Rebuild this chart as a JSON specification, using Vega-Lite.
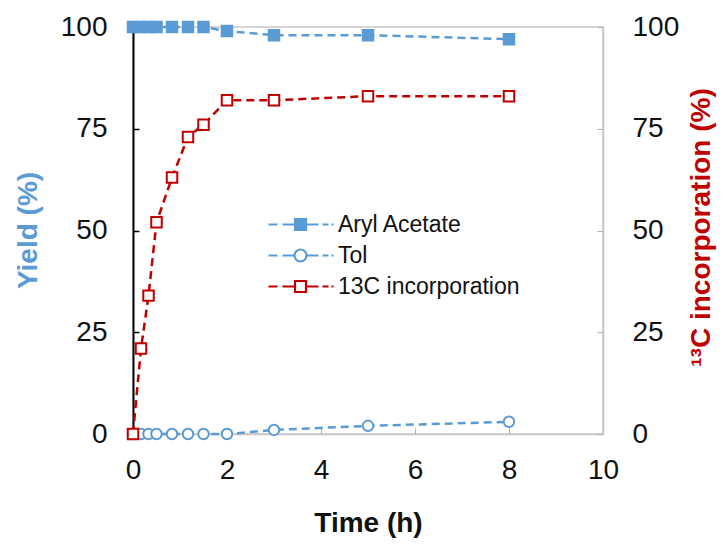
{
  "$schema": "https://vega.github.io/schema/vega-lite/v6.json",
  "width": 470,
  "height": 407,
  "autosize": "none",
  "padding": {"left": 133, "top": 27, "right": 120, "bottom": 112},
  "background": "white",
  "config": {
    "font": "Liberation Sans",
    "view": {"stroke": "#c8c8c8", "strokeWidth": 1.5},
    "axis": {"grid": false, "labelColor": "#111111", "titleColor": "#111111", "labelFontSize": 28, "titleFontSize": 28, "titleFontWeight": "bold", "labelFlush": false, "labelOverlap": false}
  },
  "data": {
    "values": [
      {"t": 0, "series": "Aryl Acetate", "v": 100},
      {"t": 0.17, "series": "Aryl Acetate", "v": 100},
      {"t": 0.33, "series": "Aryl Acetate", "v": 100},
      {"t": 0.5, "series": "Aryl Acetate", "v": 100},
      {"t": 0.83, "series": "Aryl Acetate", "v": 100},
      {"t": 1.17, "series": "Aryl Acetate", "v": 100},
      {"t": 1.5, "series": "Aryl Acetate", "v": 100},
      {"t": 2, "series": "Aryl Acetate", "v": 99},
      {"t": 3, "series": "Aryl Acetate", "v": 98},
      {"t": 5, "series": "Aryl Acetate", "v": 98},
      {"t": 8, "series": "Aryl Acetate", "v": 97},
      {"t": 0, "series": "Tol", "v": 0},
      {"t": 0.17, "series": "Tol", "v": 0},
      {"t": 0.33, "series": "Tol", "v": 0},
      {"t": 0.5, "series": "Tol", "v": 0},
      {"t": 0.83, "series": "Tol", "v": 0},
      {"t": 1.17, "series": "Tol", "v": 0},
      {"t": 1.5, "series": "Tol", "v": 0},
      {"t": 2, "series": "Tol", "v": 0},
      {"t": 3, "series": "Tol", "v": 1},
      {"t": 5, "series": "Tol", "v": 2},
      {"t": 8, "series": "Tol", "v": 3},
      {"t": 0, "series": "13C incorporation", "v": 0},
      {"t": 0.17, "series": "13C incorporation", "v": 21},
      {"t": 0.33, "series": "13C incorporation", "v": 34},
      {"t": 0.5, "series": "13C incorporation", "v": 52},
      {"t": 0.83, "series": "13C incorporation", "v": 63},
      {"t": 1.17, "series": "13C incorporation", "v": 73},
      {"t": 1.5, "series": "13C incorporation", "v": 76},
      {"t": 2, "series": "13C incorporation", "v": 82},
      {"t": 3, "series": "13C incorporation", "v": 82},
      {"t": 5, "series": "13C incorporation", "v": 83},
      {"t": 8, "series": "13C incorporation", "v": 83}
    ]
  },
  "encoding": {
    "x": {
      "field": "t", "type": "quantitative",
      "scale": {"domain": [0, 10], "nice": false},
      "axis": {"values": [0, 2, 4, 6, 8, 10], "title": "Time (h)", "domainColor": "#c8c8c8", "domainWidth": 1.5, "tickColor": "#b0b0b0", "tickSize": -6, "labelPadding": 28, "titleY": 89, "titleBaseline": "middle"}
    }
  },
  "layer": [
    {
      "transform": [{"filter": "datum.series !== '13C incorporation'"}],
      "encoding": {
        "y": {
          "field": "v", "type": "quantitative",
          "scale": {"domain": [0, 100], "nice": false},
          "axis": {"values": [0, 25, 50, 75, 100], "title": "Yield (%)", "titleColor": "#5b9bd5", "domainColor": "#000000", "domainWidth": 2, "tickColor": "#000000", "tickSize": -6, "tickWidth": 1.5, "labelPadding": 32, "titleX": -105, "titleY": 203, "titleAngle": -90, "titleBaseline": "middle", "titleAlign": "center"}
        }
      },
      "layer": [
        {
          "mark": {"type": "line", "strokeDash": [8, 5], "strokeWidth": 2.5},
          "encoding": {
            "stroke": {
              "field": "series", "type": "nominal",
              "scale": {"domain": ["Aryl Acetate", "Tol", "13C incorporation"], "range": ["#5b9bd5", "#5b9bd5", "#c00000"]},
              "legend": {
                "title": null, "orient": "none", "legendX": 156, "legendY": 186,
                "labelFontSize": 23, "labelColor": "#111111", "labelOffset": 26, "rowPadding": 7, "labelLimit": 400,
                "symbolSize": 100, "symbolStrokeWidth": 2.2,
                "encode": {
                  "symbols": {
                    "update": {
                      "shape": {"signal": "datum.value === 'Tol' ? 'M-6.4,0L-4.6,0M-3.6,0L-1.2,0M1.2,0A1.2,1.2,0,1,1,-1.2,0A1.2,1.2,0,1,1,1.2,0ZM1.2,0L3.6,0M4.4,0L5.6,0M6.2,0L6.6,0' : 'M-6.4,0L-4.6,0M-3.6,0L-1.1,0M-1.1,-1.1L1.1,-1.1L1.1,1.1L-1.1,1.1ZM1.1,0L3.6,0M4.4,0L5.6,0M6.2,0L6.6,0'"},
                      "fill": {"signal": "datum.value === 'Aryl Acetate' ? '#5b9bd5' : '#ffffff'"},
                      "strokeDash": {"value": []},
                      "opacity": {"value": 1}
                    }
                  }
                }
              }
            }
          }
        },
        {
          "transform": [{"filter": "datum.series === 'Aryl Acetate'"}],
          "mark": {"type": "point", "shape": "square", "size": 110, "strokeWidth": 2, "opacity": 1, "filled": true, "fill": "#5b9bd5", "stroke": "#5b9bd5"}
        },
        {
          "transform": [{"filter": "datum.series === 'Tol'"}],
          "mark": {"type": "point", "shape": "circle", "size": 110, "strokeWidth": 2, "opacity": 1, "fill": "#ffffff", "stroke": "#5b9bd5"}
        }
      ]
    },
    {
      "transform": [{"filter": "datum.series === '13C incorporation'"}],
      "encoding": {
        "y": {
          "field": "v", "type": "quantitative",
          "scale": {"domain": [0, 100], "nice": false},
          "axis": {"orient": "right", "values": [0, 25, 50, 75, 100], "title": "¹³C incorporation (%)", "titleColor": "#c00000", "domainColor": "#c8c8c8", "domainWidth": 1.5, "tickColor": "#b0b0b0", "tickSize": -6, "labelPadding": 35, "titleX": 98, "titleY": 200, "titleAngle": -90, "titleBaseline": "middle", "titleAlign": "center"}
        }
      },
      "layer": [
        {
          "mark": {"type": "line", "strokeDash": [8, 5], "strokeWidth": 2.5},
          "encoding": {
            "stroke": {"field": "series", "type": "nominal", "scale": {"domain": ["Aryl Acetate", "Tol", "13C incorporation"], "range": ["#5b9bd5", "#5b9bd5", "#c00000"]}}
          }
        },
        {
          "mark": {"type": "point", "shape": "square", "size": 110, "strokeWidth": 2, "opacity": 1, "fill": "#ffffff", "stroke": "#c00000"}
        }
      ]
    }
  ],
  "resolve": {"scale": {"y": "independent"}}
}
